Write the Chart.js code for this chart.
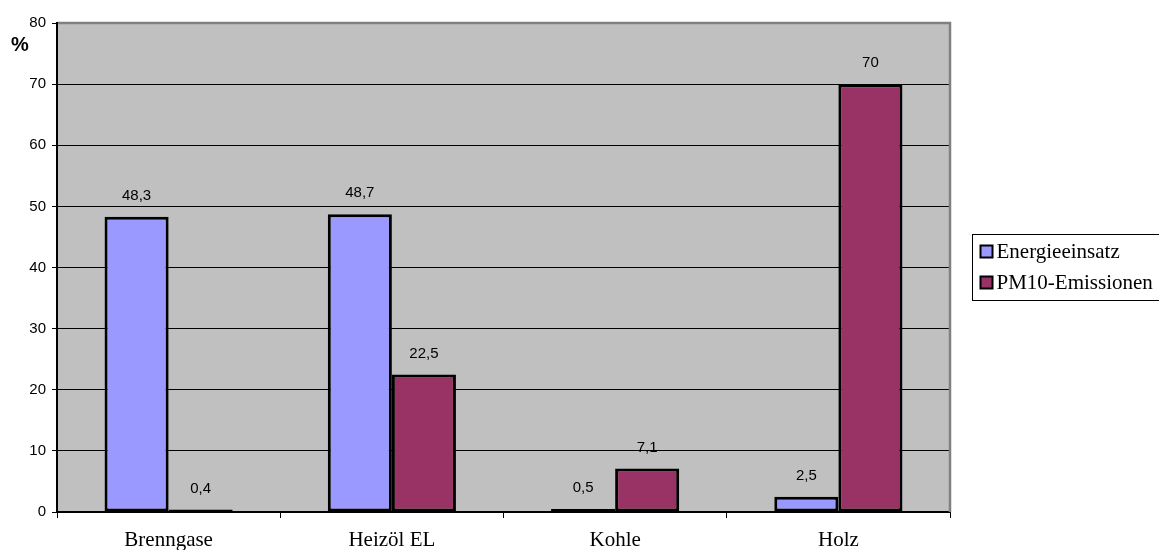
<!DOCTYPE html>
<html>
<head>
<meta charset="utf-8">
<script src="https://cdn.jsdelivr.net/npm/chart.js@4/dist/chart.umd.min.js"></script>
<style>
  html, body { margin: 0; padding: 0; background: #ffffff; }
  #wrap { position: relative; width: 1159px; height: 550px; }
</style>
</head>
<body>
<div id="wrap"><canvas id="c" width="1159" height="550"></canvas></div>
<script>
// Energieträger
const categories = ['Brenngase', 'Heizöl EL', 'Kohle', 'Holz'];
// Anteile in %
const energieeinsatz = [48.3, 48.7, 0.5, 2.5];
const pm10Emissionen = [0.4, 22.5, 7.1, 70];
const seriesNames = ['Energieeinsatz', 'PM10-Emissionen'];
const yTicks = [0, 10, 20, 30, 40, 50, 60, 70, 80];

const SANS = '"Liberation Sans", Arial, sans-serif';
const SERIF = '"Liberation Serif", "Times New Roman", serif';

const fmt = v => String(v).replace('.', ',');

// Grey plot background and its upper/right frame
const plotFrame = {
  id: 'plotFrame',
  beforeDraw(chart) {
    const { ctx, chartArea: a } = chart;
    ctx.save();
    ctx.fillStyle = '#C0C0C0';
    ctx.fillRect(a.left, a.top, a.right - a.left, a.bottom - a.top);
    ctx.restore();
  },
  afterDatasetsDraw(chart) {
    const { ctx, chartArea: a } = chart;
    ctx.save();
    ctx.strokeStyle = '#808080';
    ctx.lineWidth = 2.5;
    ctx.beginPath();
    ctx.moveTo(a.left, a.top);
    ctx.lineTo(a.right, a.top);
    ctx.lineTo(a.right, a.bottom);
    ctx.stroke();
    // value axis line
    ctx.strokeStyle = '#000000';
    ctx.lineWidth = 2;
    ctx.beginPath();
    ctx.moveTo(a.left, a.top - 1);
    ctx.lineTo(a.left, a.bottom);
    ctx.stroke();
    ctx.restore();
  }
};

// Value labels above each bar
const valueLabels = {
  id: 'valueLabels',
  afterDatasetsDraw(chart) {
    const { ctx } = chart;
    ctx.save();
    ctx.font = '15px ' + SANS;
    ctx.fillStyle = '#000000';
    ctx.textAlign = 'center';
    ctx.textBaseline = 'middle';
    chart.data.datasets.forEach((ds, i) => {
      chart.getDatasetMeta(i).data.forEach((bar, j) => {
        ctx.fillText(fmt(ds.data[j]), bar.x, bar.y - 21);
      });
    });
    ctx.restore();
  }
};

// Axis unit and boxed legend
const extras = {
  id: 'extras',
  afterDraw(chart) {
    const { ctx } = chart;
    ctx.save();
    ctx.fillStyle = '#000000';
    ctx.font = 'bold 20px ' + SANS;
    ctx.textAlign = 'center';
    ctx.textBaseline = 'middle';
    ctx.fillText('%', 20, 45);

    // legend box
    const lx = 972.5, ly = 234.5, lw = 200, lh = 66;
    ctx.strokeStyle = '#000000';
    ctx.lineWidth = 1;
    ctx.strokeRect(lx, ly, lw, lh);
    ctx.font = '21px ' + SERIF;
    ctx.textAlign = 'left';
    chart.data.datasets.forEach((ds, i) => {
      const cy = ly + 17 + i * 31;
      ctx.fillStyle = ds.backgroundColor;
      ctx.fillRect(lx + 8, cy - 6, 12, 12);
      ctx.lineWidth = 2;
      ctx.strokeRect(lx + 8, cy - 6, 12, 12);
      ctx.fillStyle = '#000000';
      ctx.fillText(ds.label, lx + 24, cy + 1);
    });
    ctx.restore();
  }
};

new Chart(document.getElementById('c'), {
  type: 'bar',
  data: {
    labels: categories,
    datasets: [
      {
        label: seriesNames[0],
        data: energieeinsatz,
        backgroundColor: '#9999FF',
        borderColor: '#000000',
        borderWidth: 3,
        borderSkipped: false,
        categoryPercentage: 0.574,
        barPercentage: 1.0
      },
      {
        label: seriesNames[1],
        data: pm10Emissionen,
        backgroundColor: '#993366',
        borderColor: '#000000',
        borderWidth: 3,
        borderSkipped: false,
        categoryPercentage: 0.574,
        barPercentage: 1.0
      }
    ]
  },
  options: {
    responsive: false,
    animation: false,
    devicePixelRatio: 1,
    layout: { padding: { top: 23, right: 209, left: 0, bottom: 0 } },
    plugins: {
      legend: { display: false },
      tooltip: { enabled: false }
    },
    scales: {
      x: {
        offset: true,
        grid: {
          offset: true,
          display: true,
          drawOnChartArea: false,
          drawTicks: true,
          tickLength: 6,
          color: '#000000',
          lineWidth: 1
        },
        border: { display: true, color: '#000000', width: 2 },
        ticks: {
          color: '#000000',
          font: { family: SERIF, size: 21 },
          padding: 10,
          maxRotation: 0
        },
        afterFit(scale) { scale.height = 38; }
      },
      y: {
        min: 0,
        max: 80,
        afterBuildTicks(scale) { scale.ticks = yTicks.map(v => ({ value: v })); },
        grid: {
          color: '#000000',
          lineWidth: 1,
          drawTicks: true,
          tickLength: 5
        },
        border: { display: true, color: '#000000', width: 2 },
        ticks: {
          color: '#000000',
          font: { family: SANS, size: 15 },
          padding: 6
        },
        afterFit(scale) { scale.width = 57; }
      }
    }
  },
  plugins: [plotFrame, valueLabels, extras]
});
</script>
</body>
</html>
